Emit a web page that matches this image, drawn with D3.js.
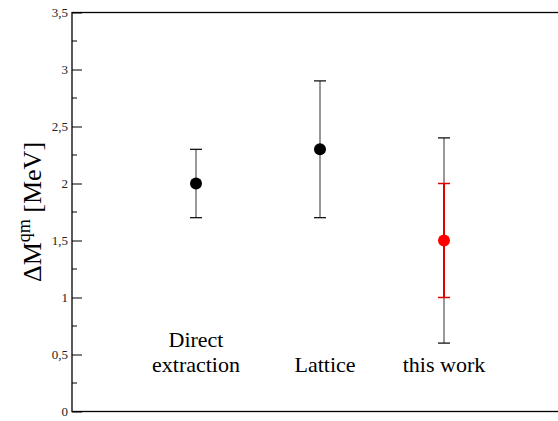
<!DOCTYPE html>
<html>
<head>
<meta charset="utf-8">
<script src="https://cdn.jsdelivr.net/npm/d3@7"></script>
<style>
  body { margin: 0; background: #fff; }
  svg text { font-family: "Liberation Serif", "Times New Roman", serif; }
</style>
</head>
<body>
<svg width="558" height="421"></svg>
<script>
// Data //////////////////////////////////////////////////////
var categories = ["Direct extraction", "Lattice", "this work"];
var xPos = [1, 2, 3];
var centers = [2.0, 2.3, 1.5];
var errLow = [1.7, 1.7, 0.6];
var errHigh = [2.3, 2.9, 2.4];
// inner (red) error band for "this work"
var innerLow = [null, null, 1.0];
var innerHigh = [null, null, 2.0];
var pointColors = ["#000", "#000", "#ff0000"];
var yTicks = [0, 0.5, 1, 1.5, 2, 2.5, 3, 3.5];
var yTickLabels = ["0", "0,5", "1", "1,5", "2", "2,5", "3", "3,5"];
var labelLines = [["Direct", "extraction"], ["Lattice"], ["this work"]];

var svg = d3.select("svg");

var x = d3.scaleLinear().domain([0, 4]).range([72, 568]);
var y = d3.scaleLinear().domain([0, 3.5]).range([411.5, 12.5]);

// Frame
svg.append("rect")
    .attr("x", x(0)).attr("y", y(3.5))
    .attr("width", x(4) - x(0)).attr("height", y(0) - y(3.5))
    .attr("fill", "none").attr("stroke", "#000").attr("stroke-width", 1.3);

// Left axis
var gL = svg.append("g").attr("transform", "translate(" + x(0) + ",0)")
    .call(d3.axisRight(y).tickValues(yTicks).tickSize(10).tickFormat(""));
gL.select(".domain").remove();

// minor ticks
var minor = d3.range(0.25, 3.5, 0.5);
gL.selectAll(".minor").data(minor).enter().append("line")
    .attr("x1", 0).attr("x2", 5)
    .attr("y1", function(d) { return y(d); }).attr("y2", function(d) { return y(d); })
    .attr("stroke", "#000");

// tick labels
svg.selectAll(".ylab").data(yTicks).enter().append("text")
    .attr("x", x(0) - 4)
    .attr("y", function(d) { return y(d) + 4; })
    .attr("text-anchor", "end")
    .attr("font-size", 13)
    .attr("fill", "#222")
    .text(function(d, i) { return yTickLabels[i]; });

// Right axis ticks
var gR = svg.append("g").attr("transform", "translate(" + x(4) + ",0)")
    .call(d3.axisLeft(y).tickValues(yTicks).tickSize(10).tickFormat(""));
gR.select(".domain").remove();

// Y axis title
var title = svg.append("text")
    .attr("transform", "translate(41," + y(1.75) + ") rotate(-90)")
    .attr("text-anchor", "middle")
    .attr("font-size", 26);
title.append("tspan").text("\u0394M");
title.append("tspan").attr("font-size", 18).attr("dy", -11).text("qm");
title.append("tspan").attr("dy", 11).text(" [MeV]");

// Error bars (outer)
var bars = svg.append("g");
xPos.forEach(function(p, i) {
  bars.append("line")
      .attr("x1", x(p)).attr("x2", x(p))
      .attr("y1", y(errLow[i])).attr("y2", y(errHigh[i]))
      .attr("stroke", "#555").attr("stroke-width", 1.2);
  [errLow[i], errHigh[i]].forEach(function(v) {
    bars.append("line")
        .attr("x1", x(p) - 6).attr("x2", x(p) + 6)
        .attr("y1", y(v)).attr("y2", y(v))
        .attr("stroke", "#000").attr("stroke-width", 1.2);
  });
  if (innerLow[i] != null) {
    bars.append("line")
        .attr("x1", x(p)).attr("x2", x(p))
        .attr("y1", y(innerLow[i])).attr("y2", y(innerHigh[i]))
        .attr("stroke", "#e00000").attr("stroke-width", 2);
    [innerLow[i], innerHigh[i]].forEach(function(v) {
      bars.append("line")
          .attr("x1", x(p) - 6).attr("x2", x(p) + 6)
          .attr("y1", y(v)).attr("y2", y(v))
          .attr("stroke", "#e00000").attr("stroke-width", 1.5);
    });
  }
});

// Points
svg.selectAll(".pt").data(centers).enter().append("circle")
    .attr("cx", function(d, i) { return x(xPos[i]); })
    .attr("cy", function(d) { return y(d); })
    .attr("r", 6)
    .attr("fill", function(d, i) { return pointColors[i]; });

// Category labels
labelLines.forEach(function(lines, i) {
  var cx = x(xPos[i]) + (i === 1 ? 5 : 0);
  var n = lines.length;
  lines.forEach(function(s, j) {
    svg.append("text")
        .attr("text-anchor", "middle")
        .attr("font-size", 22)
        .attr("x", cx)
        .attr("y", 372 - (n - 1 - j) * 25)
        .text(s);
  });
});
</script>
</body>
</html>
